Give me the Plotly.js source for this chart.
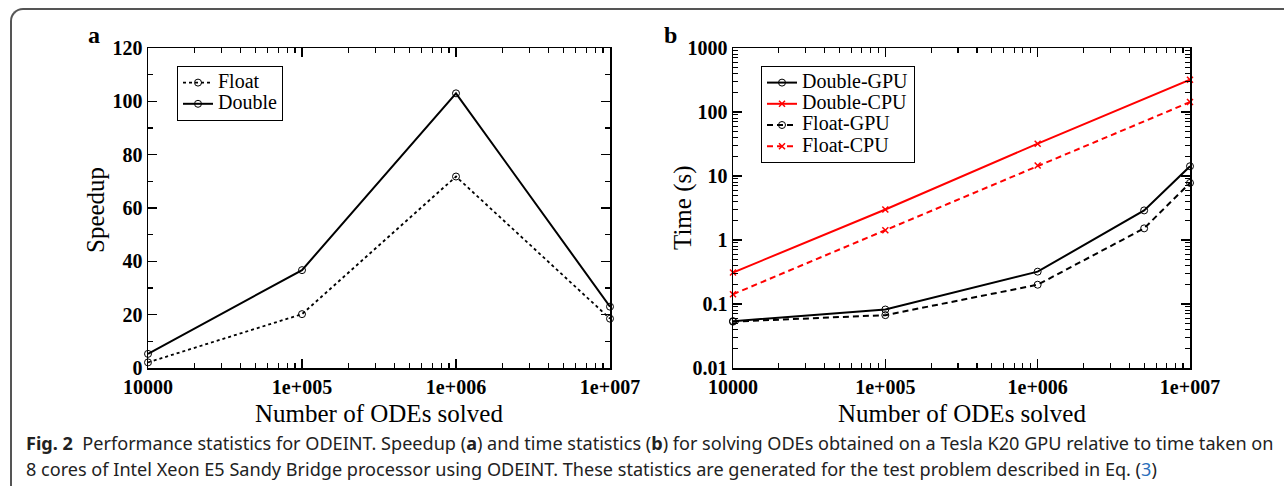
<!DOCTYPE html>
<html>
<head>
<meta charset="utf-8">
<script src="https://cdn.plot.ly/plotly-3.0.1.min.js"></script>
<style>
  html, body { margin: 0; padding: 0; background: #fff; }
  #wrap { position: relative; width: 1284px; height: 486px; overflow: hidden; }
  #frame { position: absolute; left: 10px; top: 8px; width: 1300px; height: 500px;
           border-top: 2px solid #555; border-left: 2px solid #555; border-top-left-radius: 13px; box-sizing: border-box; }
  #chart { position: absolute; left: 0; top: 0; width: 1284px; height: 486px; }
</style>
</head>
<body>
<div id="wrap"><div id="frame"></div><div id="chart"></div></div>
<script>
// ---- data ----
const odesA = [1e4, 1e5, 1e6, 1e7];
const speedupFloat = [2.1, 20.2, 71.8, 18.5];
const speedupDouble = [5.3, 36.7, 103, 23];

const odesCPU = [1e4, 1e5, 1e6, 1e7];
const odesGPU = [1e4, 1e5, 1e6, 5e6, 1e7];
const timeDoubleGPU = [0.054, 0.082, 0.32, 2.9, 14.2];
const timeDoubleCPU = [0.31, 3.0, 32, 320];
const timeFloatGPU = [0.053, 0.067, 0.20, 1.52, 7.8];
const timeFloatCPU = [0.142, 1.42, 14.6, 143];

const xTickVals = [1e4, 1e5, 1e6, 1e7];
const xTickText = ['10000', '1e+005', '1e+006', '1e+007'];
const yTickValsA = [0, 20, 40, 60, 80, 100, 120];
const yTickTextA = ['0', '20', '40', '60', '80', '100', '120'];
const yTickValsB = [0.01, 0.1, 1, 10, 100, 1000];
const yTickTextB = ['0.01', '0.1', '1', '10', '100', '1000'];

const namesA = ['Float', 'Double'];
const namesB = ['Double-GPU', 'Double-CPU', 'Float-GPU', 'Float-CPU'];
const xTitle = 'Number of ODEs solved';
const yTitleA = 'Speedup';
const yTitleB = 'Time (s)';
const captionLine1 = '<b>Fig. 2</b>  Performance statistics for ODEINT. Speedup (<b>a</b>) and time statistics (<b>b</b>) for solving ODEs obtained on a Tesla K20 GPU relative to time taken on';
const captionLine2 = '8 cores of Intel Xeon E5 Sandy Bridge processor using ODEINT. These statistics are generated for the test problem described in Eq. (<span style="color:#2a6ebb">3</span>)';

// ---- layout helpers ----
const W = 1284, H = 486;
const px = v => v / W;
const py = v => 1 - v / H;
const SERIF = 'Liberation Serif, Times New Roman, serif';
const SANS = 'Noto Sans, sans-serif';
const legName = s => '<span style="font-size:20px">' + s + '</span>';

const circ = {symbol: 'circle-open', size: 7, color: '#000', line: {width: 1, color: '#000'}};
const cross = {symbol: 'x-thin-open', size: 6, color: '#f00', line: {width: 1.5, color: '#f00'}};

const traces = [
  {x: odesA, y: speedupFloat, name: legName(namesA[0]), mode: 'lines+markers', xaxis: 'x', yaxis: 'y', legend: 'legend',
   line: {color: '#000', width: 1.8, dash: 'dot'}, marker: circ, cliponaxis: false},
  {x: odesA, y: speedupDouble, name: legName(namesA[1]), mode: 'lines+markers', xaxis: 'x', yaxis: 'y', legend: 'legend',
   line: {color: '#000', width: 2}, marker: circ, cliponaxis: false},
  {x: odesGPU, y: timeDoubleGPU, name: legName(namesB[0]), mode: 'lines+markers', xaxis: 'x2', yaxis: 'y2', legend: 'legend2',
   line: {color: '#000', width: 2}, marker: circ, cliponaxis: false},
  {x: odesCPU, y: timeDoubleCPU, name: legName(namesB[1]), mode: 'lines+markers', xaxis: 'x2', yaxis: 'y2', legend: 'legend2',
   line: {color: '#f00', width: 2}, marker: cross, cliponaxis: false},
  {x: odesGPU, y: timeFloatGPU, name: legName(namesB[2]), mode: 'lines+markers', xaxis: 'x2', yaxis: 'y2', legend: 'legend2',
   line: {color: '#000', width: 2, dash: '6px,4px'}, marker: circ, cliponaxis: false},
  {x: odesCPU, y: timeFloatCPU, name: legName(namesB[3]), mode: 'lines+markers', xaxis: 'x2', yaxis: 'y2', legend: 'legend2',
   line: {color: '#f00', width: 2, dash: '6px,4px'}, marker: cross, cliponaxis: false}
];

const tickFont = {family: SERIF, size: 20, color: '#000', weight: 'bold'};
const titleFont = {family: SERIF, size: 25, color: '#000'};
const baseAxis = {
  showline: true, linecolor: '#000', linewidth: 1.5, mirror: 'allticks',
  ticks: 'inside', ticklen: 9, tickwidth: 1.3, tickcolor: '#000',
  showgrid: false, zeroline: false, tickfont: tickFont, automargin: false
};
const logX = Object.assign({}, baseAxis, {
  type: 'log', range: [4, 7], tickmode: 'array', tickvals: xTickVals, ticktext: xTickText,
  minor: {ticks: 'inside', ticklen: 5, tickwidth: 1.1, tickcolor: '#000', dtick: 'D1', showgrid: false}
});

const ann = (text, x, y, opts) => Object.assign({text: text, xref: 'paper', yref: 'paper', x: px(x), y: py(y),
  xanchor: 'center', yanchor: 'middle', showarrow: false}, opts);

const legendBase = {xanchor: 'left', yanchor: 'top', bgcolor: '#fff', bordercolor: '#000', borderwidth: 1,
  font: {family: SERIF, size: 14, color: '#000'}, tracegroupgap: 0, itemwidth: 30};

const layout = {
  width: W, height: H, margin: {l: 0, r: 0, t: 0, b: 0},
  paper_bgcolor: 'rgba(0,0,0,0)', plot_bgcolor: '#fff',
  showlegend: true,
  xaxis: Object.assign({}, logX, {domain: [px(148), px(610)], anchor: 'y'}),
  yaxis: Object.assign({}, baseAxis, {
    domain: [py(368), py(48)], anchor: 'x', range: [0, 120],
    tickmode: 'array', tickvals: yTickValsA, ticktext: yTickTextA,
    minor: {ticks: 'inside', ticklen: 5, tickwidth: 1.1, tickcolor: '#000', dtick: 10, showgrid: false}
  }),
  xaxis2: Object.assign({}, logX, {domain: [px(733), px(1190)], anchor: 'y2'}),
  yaxis2: Object.assign({}, baseAxis, {
    domain: [py(368), py(48)], anchor: 'x2', type: 'log', range: [-2, 3],
    tickmode: 'array', tickvals: yTickValsB, ticktext: yTickTextB,
    minor: {ticks: 'inside', ticklen: 5, tickwidth: 1.1, tickcolor: '#000', dtick: 'D1', showgrid: false}
  }),
  legend: Object.assign({}, legendBase, {x: px(177), y: py(66)}),
  legend2: Object.assign({}, legendBase, {x: px(761), y: py(66)}),
  annotations: [
    ann('<b>a</b>', 86, 50, {xanchor: 'left', yanchor: 'bottom', font: {family: SERIF, size: 24, color: '#000'}}),
    ann('<b>b</b>', 662, 50, {xanchor: 'left', yanchor: 'bottom', font: {family: SERIF, size: 24, color: '#000'}}),
    ann(xTitle, 379, 413, {font: titleFont}),
    ann(xTitle, 961.5, 413, {font: titleFont}),
    ann(yTitleA, 96, 210, {textangle: -90, font: titleFont}),
    ann(yTitleB, 683, 208, {textangle: -90, font: titleFont}),
    ann(captionLine1, 24, 443, {xanchor: 'left', font: {family: SANS, size: 18.1, color: '#222'}}),
    ann(captionLine2, 24, 469, {xanchor: 'left', font: {family: SANS, size: 18.1, color: '#222'}})
  ]
};

Plotly.newPlot('chart', traces, layout, {displayModeBar: false, staticPlot: true});
</script>
</body>
</html>
